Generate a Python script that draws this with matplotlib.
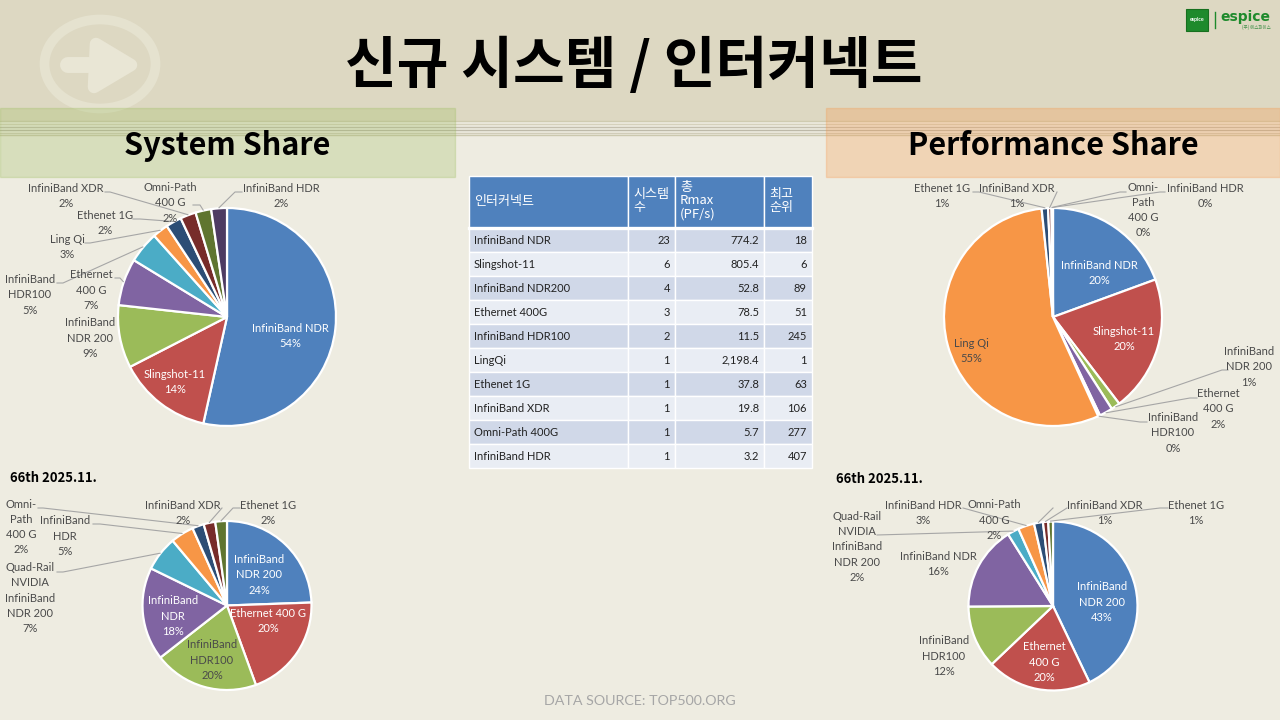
#!/usr/bin/env python3

from math import cos, sin, radians

import matplotlib
matplotlib.use('Agg')
import matplotlib.pyplot as plt
from matplotlib.patches import Rectangle, Ellipse, Polygon

plt.rcParams['font.family'] = ['Lato', 'Noto Sans CJK KR', 'DejaVu Sans']

W, H = 1280, 720

COLORS = ['#4F81BD', '#C0504D', '#9BBB59', '#8064A2', '#4BACC6',
          '#F79646', '#2C4D75', '#772C2A', '#5F7530', '#4D3B62']
KR = ['Noto Sans CJK KR', 'DejaVu Sans']
LABEL_C = '#4A4A4A'
LEADER_C = '#A6A6A6'

# --- table data ---
table_head = ['인터커넥트', '시스템\n수', '총\nRmax\n(PF/s)', '최고\n순위']
interconnects = ['InfiniBand NDR', 'Slingshot-11', 'InfiniBand NDR200', 'Ethernet 400G',
                 'InfiniBand HDR100', 'LingQi', 'Ethenet 1G', 'InfiniBand XDR',
                 'Omni-Path 400G', 'InfiniBand HDR']
table_systems = ['23', '6', '4', '3', '2', '1', '1', '1', '1', '1']
table_rmax = ['774.2', '805.4', '52.8', '78.5', '11.5', '2,198.4', '37.8', '19.8', '5.7', '3.2']
table_rank = ['18', '6', '89', '51', '245', '1', '63', '106', '277', '407']

# --- new systems, system share ---
sys_new_values = [23, 6, 4, 3, 2, 1, 1, 1, 1, 1]
sys_new_labels = ['InfiniBand NDR\n54%', 'Slingshot-11\n14%', 'InfiniBand\nNDR 200\n9%',
                  'Ethernet\n400 G\n7%', 'InfiniBand\nHDR100\n5%', 'Ling Qi\n3%',
                  'Ethenet 1G\n2%', 'InfiniBand XDR\n2%', 'Omni-Path\n400 G\n2%',
                  'InfiniBand HDR\n2%']

# --- 66th list, system share ---
sys_66_values = [11, 9, 9, 8, 3, 2, 1, 1, 1]
sys_66_labels = ['InfiniBand\nNDR 200\n24%', 'Ethernet 400 G\n20%', 'InfiniBand\nHDR100\n20%',
                 'InfiniBand\nNDR\n18%', 'Quad-Rail\nNVIDIA\nInfiniBand\nNDR 200\n7%',
                 'InfiniBand\nHDR\n5%', 'Omni-\nPath\n400 G\n2%', 'InfiniBand XDR\n2%',
                 'Ethenet 1G\n2%']

# --- new systems, performance share ---
perf_new_values = [774.2, 805.4, 52.8, 78.5, 11.5, 2198.4, 37.8, 19.8, 5.7, 3.2]
perf_new_labels = ['InfiniBand NDR\n20%', 'Slingshot-11\n20%', 'InfiniBand\nNDR 200\n1%',
                   'Ethernet\n400 G\n2%', 'InfiniBand\nHDR100\n0%', 'Ling Qi\n55%',
                   'Ethenet 1G\n1%', 'InfiniBand XDR\n1%', 'Omni-\nPath\n400 G\n0%',
                   'InfiniBand HDR\n0%']

# --- 66th list, performance share ---
perf_66_values = [42.9, 20.0, 12.0, 16.2, 2.2, 3.1, 1.7, 1.0, 0.9]
perf_66_labels = ['InfiniBand\nNDR 200\n43%', 'Ethernet\n400 G\n20%', 'InfiniBand\nHDR100\n12%',
                  'InfiniBand NDR\n16%', 'Quad-Rail\nNVIDIA\nInfiniBand\nNDR 200\n2%',
                  'InfiniBand HDR\n3%', 'Omni-Path\n400 G\n2%', 'InfiniBand XDR\n1%',
                  'Ethenet 1G\n1%']

# --- layout, in reference pixels (y down) ---
pies = [
    dict(values=sys_new_values, labels=sys_new_labels, center=(227, 317), radius=109,
         text_xy=[(290, 336), (175, 382), (90, 338), (91, 290), (30, 295),
                  (67, 247), (105, 223), (66, 196), (170, 203), (281, 196)],
         white=[0, 1],
         leaders={4: [(57, 283), (63, 283)], 3: [(115, 278), (120, 278)],
                  5: [(85, 243), (90, 243)], 6: [(133, 219), (140, 219)],
                  7: [(105, 192), (110, 192)], 8: [(193, 205), (200, 205)],
                  9: [(242, 192), (235, 192)]}),
    dict(values=sys_66_values, labels=sys_66_labels, center=(227, 605.5), radius=84.5,
         text_xy=[(259, 575), (268, 621), (212, 660), (173, 616), (30, 598),
                  (65, 536), (21, 527), (183, 513), (268, 513)],
         white=[0, 1, 3],
         leaders={4: [(57, 572), (63, 572)], 5: [(93, 524), (100, 524)],
                  6: [(38, 508), (43, 508)], 7: [(222, 508)],
                  8: [(240, 508), (233, 508)]}),
    dict(values=perf_new_values, labels=perf_new_labels, center=(1053, 317), radius=109,
         text_xy=[(1099, 273), (1124, 339), (1249, 367), (1218, 409), (1173, 433),
                  (971, 351), (942, 196), (1017, 196), (1143, 210), (1205, 196)],
         white=[0, 1],
         leaders={2: [(1228, 370), (1222, 370)], 3: [(1197, 398), (1190, 398)],
                  4: [(1147, 422), (1140, 422)], 6: [(973, 192), (979, 192)],
                  7: [(1057, 192)], 8: [(1126, 192), (1120, 192)],
                  9: [(1165, 192), (1160, 192)]}),
    dict(values=perf_66_values, labels=perf_66_labels, center=(1053, 606), radius=84.5,
         text_xy=[(1102, 602), (1044, 662), (944, 656), (938, 564), (857, 547),
                  (923, 513), (994, 520), (1105, 513), (1196, 513)],
         white=[0, 1],
         leaders={4: [(877, 535)], 5: [(963, 508)], 6: [(1053, 508)],
                  7: [(1067, 508)], 8: [(1168, 508), (1160, 508)]}),
]


def Y(y):
    return H - y


def box(x0, y0, x1, y1, **kw):
    ax.add_patch(Rectangle((x0, Y(y1)), x1 - x0, y1 - y0, **kw))


fig = plt.figure(figsize=(12.8, 7.2), dpi=100, facecolor='#EEECE1')
ax = fig.add_axes([0, 0, 1, 1])

# background band and watermark arrow
box(0, 0, W, 121, fc='#DDD8C2', ec='none', zorder=0)
ax.add_patch(Ellipse((100, Y(64)), 111, 89, fc='none', ec='#E5E2CF', lw=7, zorder=1))
ax.plot([68, 110], [Y(65), Y(65)], color='#E9E6D5', lw=11.5, solid_capstyle='round', zorder=1)
ax.add_patch(Polygon([(96, Y(44)), (131, Y(65)), (94, Y(87))], closed=True, fc='#E9E6D5',
                     ec='#E9E6D5', lw=9, joinstyle='round', zorder=1))

for y, c in zip([121, 123.5, 126.5, 129.5, 132.5, 135],
                ['#CFCBB0', '#D5D1BC', '#C4BFAE', '#BDB9A8', '#D0CCB8', '#CBC8AE']):
    ax.plot([0, W], [Y(y), Y(y)], color=c, lw=1, zorder=1)

# section headers
box(0, 108, 455, 177, fc='#9BBB59', ec='#9BBB59', alpha=0.27, lw=1, zorder=2)
box(826, 108, 1280, 177, fc='#F79646', ec='#F79646', alpha=0.28, lw=1, zorder=2)
ax.text(227, Y(146), 'System Share', family=KR, fontsize=22, fontweight='bold',
        ha='center', va='center', color='black', zorder=3)
ax.text(1053, Y(146), 'Performance Share', family=KR, fontsize=22, fontweight='bold',
        ha='center', va='center', color='black', zorder=3)

# title
ax.text(634, Y(66), '신규 시스템 / 인터커넥트', family=KR, fontsize=40.5, fontweight='bold',
        ha='center', va='center', color='black', zorder=3)

# logo
box(1186, 9, 1208, 31, fc='#1E8A2C', ec='#17701F', lw=0.8, zorder=3)
ax.text(1197, Y(19), 'espice', fontsize=3.8, fontweight='bold', color='white',
        ha='center', va='center', zorder=4)
ax.plot([1214.5, 1214.5], [Y(12), Y(28)], color='#1E8A2C', lw=1, zorder=3)
ax.text(1245, Y(17), 'espice', family='DejaVu Sans', fontsize=10, fontweight='bold',
        color='#1E8A2C', ha='center', va='center', zorder=3)
ax.text(1256, Y(27), '(주) 에스파이스', family=KR, fontsize=3.2, color='#3E8E48',
        ha='center', va='center', zorder=3)

# pies
for p in pies:
    cx, cy = p['center'][0], Y(p['center'][1])
    wedges, _ = ax.pie(p['values'], colors=COLORS, center=(cx, cy), radius=p['radius'],
                       startangle=90, counterclock=False,
                       wedgeprops=dict(edgecolor='white', linewidth=1.6))
    for w in wedges:
        w.set_zorder(3)
    for i, (txt, (tx, ty)) in enumerate(zip(p['labels'], p['text_xy'])):
        c = 'white' if i in p['white'] else LABEL_C
        ax.text(tx, Y(ty), txt, fontsize=8, color=c, ha='center', va='center',
                linespacing=1.46, zorder=6)
    for i, pts in p['leaders'].items():
        t = radians((wedges[i].theta1 + wedges[i].theta2) / 2)
        end = wedges[i].r * 1.005
        xs = [q[0] for q in pts] + [cx + end * cos(t)]
        ys = [Y(q[1]) for q in pts] + [cy + end * sin(t)]
        ax.plot(xs, ys, color=LEADER_C, lw=0.8, zorder=5)

# table
col_x = [469, 628, 675, 764, 812]
row_y = [176, 228] + [228 + 24 * (i + 1) for i in range(10)]
for j in range(4):
    box(col_x[j], row_y[0], col_x[j + 1], row_y[1], fc='#4F81BD', ec='white', lw=1, zorder=3)
    ax.text(col_x[j] + 5, Y(201), table_head[j], family=KR, fontsize=9.4, color='white',
            ha='left', va='center', linespacing=1.05, fontweight='medium', zorder=4)
ax.plot([469, 812], [Y(228), Y(228)], color='white', lw=2.4, zorder=4)
for i in range(10):
    fc = '#D0D8E8' if i % 2 == 0 else '#E9EDF4'
    for j in range(4):
        box(col_x[j], row_y[i + 1], col_x[j + 1], row_y[i + 2], fc=fc, ec='white', lw=1, zorder=3)
    ym = Y((row_y[i + 1] + row_y[i + 2]) / 2)
    ax.text(col_x[0] + 5, ym, interconnects[i], fontsize=8, color='#222222', ha='left',
            va='center', zorder=4)
    for j, col in enumerate([table_systems, table_rmax, table_rank]):
        ax.text(col_x[j + 2] - 5, ym, col[i], fontsize=8, color='#222222', ha='right',
                va='center', zorder=4)

# notes
ax.text(10, Y(478), '66th 2025.11.', family=KR, fontsize=9.4, fontweight='bold', color='black',
        ha='left', va='center', zorder=4)
ax.text(836, Y(479), '66th 2025.11.', family=KR, fontsize=9.4, fontweight='bold', color='black',
        ha='left', va='center', zorder=4)
ax.text(640, Y(701), 'DATA SOURCE: TOP500.ORG', fontsize=10.3, color='#A6A6A6',
        ha='center', va='center', zorder=4)

ax.set_aspect('auto')
ax.set_xlim(0, W)
ax.set_ylim(0, H)
ax.axis('off')

fig.savefig('out.png', dpi=100, facecolor=fig.get_facecolor())
